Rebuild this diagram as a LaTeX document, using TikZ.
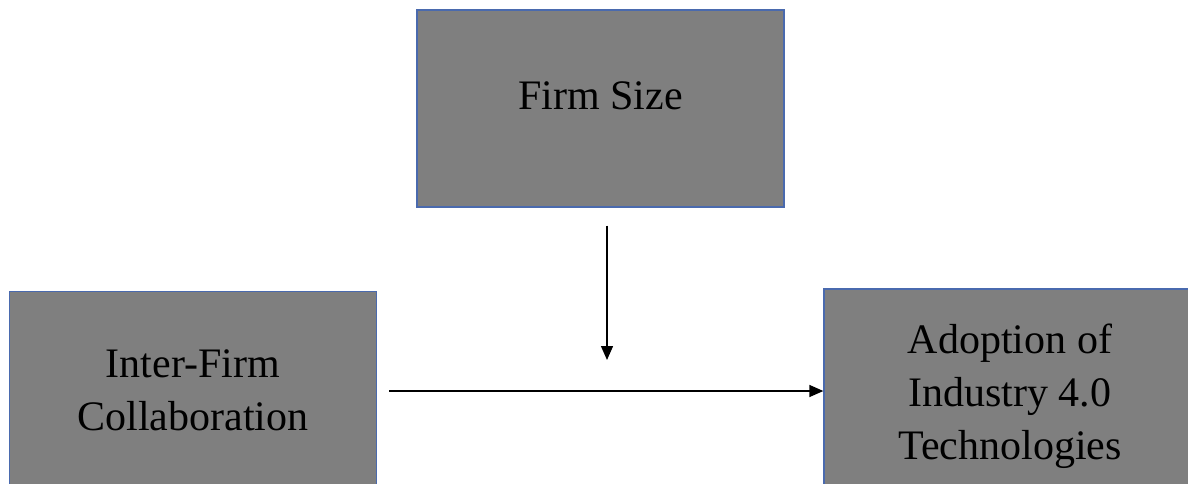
\documentclass[tikz,border=0pt]{standalone}
\usepackage{fontspec}
\setmainfont{Liberation Serif}
\usetikzlibrary{arrows.meta}
\definecolor{boxgray}{HTML}{7F7F7F}
\definecolor{boxblue}{HTML}{4A6AAE}

\begin{document}
\begin{tikzpicture}[x=1pt,y=-1pt,
      every node/.style={inner sep=0pt},
      factor/.style={draw=boxblue,fill=boxgray,line width=1.3pt,
        minimum width=367pt,minimum height=197pt,align=center,
        font=\fontsize{42}{53}\selectfont},
      link/.style={-{Triangle[length=14pt,width=12pt]},line width=1.4pt}]
    \useasboundingbox (0,0) rectangle (1188,484);
    \clip (0,0) rectangle (1188,484);
    \node[factor,text depth=25pt] (size) at (600.5,108.5) {Firm Size};
    \node[factor] (collab) at (193,390) {Inter-Firm\\Collaboration};
    \node[factor,minimum width=372pt,minimum height=214pt] (adopt) at (1010,396) {Adoption of\\Industry 4.0\\Technologies};
    \coordinate (drop) at (607,360);
    \draw[link,shorten <=18pt] (size.south -| drop) -- (drop);
    \draw[link,shorten <=12pt] (collab.east |- 0,391) -- (adopt.west |- 0,391);
  \end{tikzpicture}
\end{document}
